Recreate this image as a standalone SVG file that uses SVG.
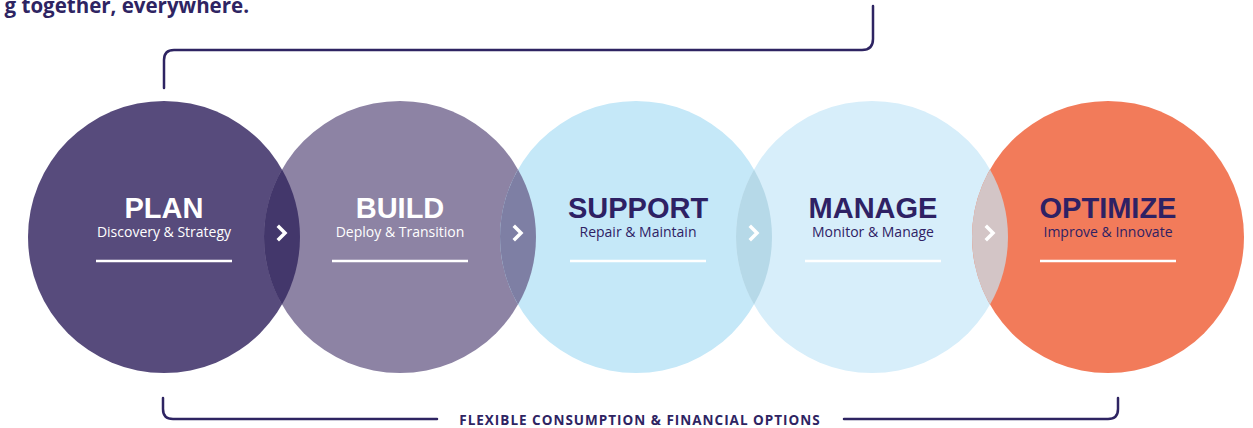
<svg xmlns="http://www.w3.org/2000/svg" width="1253" height="428" viewBox="0 0 1253 428">
<style>
.t{font-family:"Liberation Sans",Arial,sans-serif;font-weight:bold;font-size:29px;text-anchor:middle}
.s{font-family:"Open Sans","Liberation Sans",Arial,sans-serif;font-size:14px;text-anchor:middle}
.w{fill:#ffffff}
.d{fill:#2e2164}
.ul{stroke:#ffffff;stroke-width:2.5}
.br{fill:none;stroke:#2e2462;stroke-width:2.5;stroke-linecap:round}
.chev{fill:none;stroke:#ffffff;stroke-width:3.5;stroke-linecap:square}
</style>
<rect width="1253" height="428" fill="#ffffff"/>
<text x="249" y="13" font-family="'Open Sans','Liberation Sans',Arial,sans-serif" font-weight="bold" font-size="20.5" fill="#2e2462" text-anchor="end">g together, everywhere.</text>
<g id="connectors">
<path class="br" d="M164,88 V60 Q164,50 174,50 H862 Q873,50 873,39 V6"/>
<path class="br" d="M163,398 V409 Q163,419 173,419 H437"/>
<path class="br" d="M844,419 H1108 Q1118,419 1118,409 V398"/>
<text x="640" y="425" font-family="'Open Sans','Liberation Sans',Arial,sans-serif" font-weight="bold" font-size="13.5" letter-spacing="1" fill="#2e2462" text-anchor="middle">FLEXIBLE CONSUMPTION &amp; FINANCIAL OPTIONS</text>
</g>
<g id="plan">
<circle cx="164" cy="237" r="136" fill="#574b7c"/>
</g>
<g id="build">
<circle cx="400" cy="237" r="136" fill="#8d83a4"/>
</g>
<g id="support">
<circle cx="636" cy="237" r="136" fill="#c5e8f8"/>
</g>
<g id="manage">
<circle cx="872" cy="237" r="136" fill="#d7eefa"/>
</g>
<g id="optimize">
<circle cx="1108" cy="237" r="136" fill="#f27b5a"/>
</g>
<g id="overlaps">
<path d="M282,169.4 A136,136 0 0 1 282,304.6 A136,136 0 0 1 282,169.4 Z" fill="#43376b"/>
<path d="M518,169.4 A136,136 0 0 1 518,304.6 A136,136 0 0 1 518,169.4 Z" fill="#7e7fa4"/>
<path d="M754,169.4 A136,136 0 0 1 754,304.6 A136,136 0 0 1 754,169.4 Z" fill="#b6d9e8"/>
<path d="M990,169.4 A136,136 0 0 1 990,304.6 A136,136 0 0 1 990,169.4 Z" fill="#d3c5c6"/>
<path class="chev" d="M279,227 L285,233 L279,239"/>
<path class="chev" d="M515,227 L521,233 L515,239"/>
<path class="chev" d="M751,227 L757,233 L751,239"/>
<path class="chev" d="M987,227 L993,233 L987,239"/>
</g>
<g id="labels">
<text class="t w" x="164" y="218">PLAN</text>
<text class="s w" x="164" y="237">Discovery &amp; Strategy</text>
<line class="ul" x1="96" y1="261" x2="232" y2="261"/>
<text class="t w" x="400" y="218">BUILD</text>
<text class="s w" x="400" y="237">Deploy &amp; Transition</text>
<line class="ul" x1="332" y1="261" x2="468" y2="261"/>
<text class="t d" x="638" y="218">SUPPORT</text>
<text class="s d" x="638" y="237">Repair &amp; Maintain</text>
<line class="ul" x1="570" y1="261" x2="706" y2="261"/>
<text class="t d" x="873" y="218">MANAGE</text>
<text class="s d" x="873" y="237">Monitor &amp; Manage</text>
<line class="ul" x1="805" y1="261" x2="941" y2="261"/>
<text class="t d" x="1108" y="218">OPTIMIZE</text>
<text class="s d" x="1108" y="237">Improve &amp; Innovate</text>
<line class="ul" x1="1040" y1="261" x2="1176" y2="261"/>
</g>
</svg>
